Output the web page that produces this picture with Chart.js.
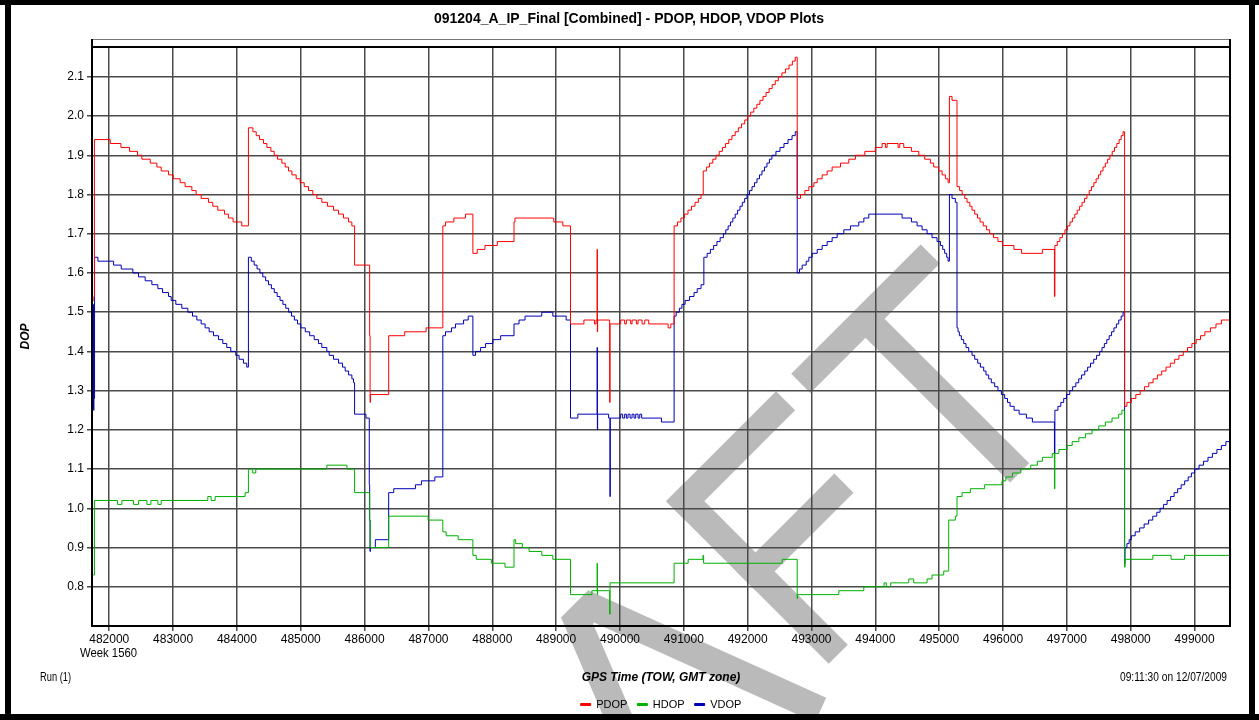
<!DOCTYPE html>
<html><head><meta charset="utf-8">
<script src="https://cdn.jsdelivr.net/npm/chart.js@4"></script>
<style>html,body{margin:0;padding:0;background:#fff;overflow:hidden}#wrap{width:1259px;height:720px;position:relative}canvas{display:block}</style>
</head><body><div id="wrap"><canvas id="c" width="1259" height="720"></canvas></div>
<script>
// ---- data (GPS time of week, DOP value at each step change) ----
const xTickVals = [482000,483000,484000,485000,486000,487000,488000,489000,490000,491000,492000,493000,494000,495000,496000,497000,498000,499000];
const yTickVals = [0.8,0.9,1.0,1.1,1.2,1.3,1.4,1.5,1.6,1.7,1.8,1.9,2.0,2.1];
const seriesNames = ['PDOP','HDOP','VDOP'];

const pdopT = [481750,481760,481768,482016,482183,482318,482443,482511,482642,482746,482814,482929,483002,483111,483189,483294,483361,483440,483554,483622,483700,483805,483867,483940,484076,
484180,484250,484302,484354,484417,484469,484532,484584,484636,484704,484756,484808,484861,484928,484991,485054,485121,485189,485252,485330,485418,485513,485591,485669,485748,485800,
485843,486079,486086,486092,486377,486628,486963,487225,487267,487398,487581,487696,487764,487885,488079,488340,488355,488963,489105,489225,489435,489600,489625,489642,489646,489650,489838,489845,
490011,490073,490100,490168,490189,490257,490283,490346,490388,490450,490754,490796,
490848,490901,490955,491010,491065,491120,491175,491228,491270,491304,491354,491404,491454,491504,491554,491604,491654,491704,491754,491804,491854,491904,491954,492000,492048,492096,492144,492192,492240,492288,492336,492384,492432,492480,492536,492592,492648,492700,492745,
492776,492828,492896,492958,493037,493089,493167,493245,493323,493454,493584,493688,493835,494000,494106,494158,494184,494356,494382,494445,494565,494680,494773,494862,494914,494993,495045,495097,495139,
495160,495201,495279,495320,495360,495400,495436,495480,495514,495556,495600,495640,495690,495740,495790,495850,495920,495990,496170,496290,496616,496805,
496812,496850,496890,496930,496970,497010,497048,497086,497124,497162,497200,497238,497276,497314,497350,497386,497422,497458,497494,497530,497566,497602,497638,497674,497710,497746,497782,497818,497850,497880,
497904,497940,498010,498080,498148,498215,498283,498350,498418,498485,498553,498620,498688,498755,498823,498890,498958,499025,499093,499161,499248,499335,499421,499555];
const pdopV = [1.53,1.54,1.94,1.93,1.92,1.91,1.90,1.89,1.88,1.87,1.86,1.85,1.84,1.83,1.82,1.81,1.80,1.79,1.78,1.77,1.76,1.75,1.74,1.73,1.72,
1.97,1.96,1.95,1.94,1.93,1.92,1.91,1.90,1.89,1.88,1.87,1.86,1.85,1.84,1.83,1.82,1.81,1.80,1.79,1.78,1.77,1.76,1.75,1.74,1.73,1.72,
1.62,1.44,1.27,1.29,1.44,1.45,1.46,1.72,1.73,1.74,1.75,1.65,1.66,1.67,1.68,1.73,1.74,1.73,1.72,1.47,1.48,1.47,1.48,1.66,1.45,1.48,1.27,1.47,
1.48,1.47,1.48,1.47,1.48,1.47,1.48,1.47,1.48,1.47,1.46,1.47,
1.72,1.73,1.74,1.75,1.76,1.77,1.78,1.79,1.80,1.86,1.87,1.88,1.89,1.90,1.91,1.92,1.93,1.94,1.95,1.96,1.97,1.98,1.99,2.00,2.01,2.02,2.03,2.04,2.05,2.06,2.07,2.08,2.09,2.10,2.11,2.12,2.13,2.14,2.15,
1.79,1.80,1.81,1.82,1.83,1.84,1.85,1.86,1.87,1.88,1.89,1.90,1.91,1.92,1.93,1.92,1.93,1.92,1.93,1.92,1.91,1.90,1.89,1.88,1.87,1.86,1.85,1.84,1.83,
2.05,2.04,1.82,1.81,1.80,1.79,1.78,1.77,1.76,1.75,1.74,1.73,1.72,1.71,1.70,1.69,1.68,1.67,1.66,1.65,1.66,1.54,
1.67,1.68,1.69,1.70,1.71,1.72,1.73,1.74,1.75,1.76,1.77,1.78,1.79,1.80,1.81,1.82,1.83,1.84,1.85,1.86,1.87,1.88,1.89,1.90,1.91,1.92,1.93,1.94,1.95,1.96,
1.26,1.27,1.28,1.29,1.30,1.31,1.32,1.33,1.34,1.35,1.36,1.37,1.38,1.39,1.40,1.41,1.42,1.43,1.44,1.45,1.46,1.47,1.48,1.48];

const hdopT = [481750,481768,482130,482198,482381,482459,482590,482652,482762,482814,483544,483596,483659,484128,484180,484248,484295,485409,485723,485843,486079,486088,486377,486995,487225,487277,487466,487696,487749,487985,488199,488340,488366,488471,488576,488775,488948,
489225,489560,489642,489646,489650,489838,489845,490848,491068,491300,491310,492541,492776,492782,493428,493819,494136,494172,494240,494523,494601,494810,494888,495071,
495149,495253,495279,495358,495488,495712,495984,496044,496148,496278,496434,496538,496616,496771,496805,496812,496875,497005,497083,497187,497291,497395,497499,497603,497707,497811,497862,
497904,497912,498346,498632,498842,499555];
const hdopV = [0.83,1.02,1.01,1.02,1.01,1.02,1.01,1.02,1.01,1.02,1.03,1.02,1.03,1.04,1.10,1.09,1.10,1.11,1.10,1.04,0.97,0.90,0.98,0.97,0.94,0.93,0.92,0.88,0.87,0.86,0.85,0.92,0.91,0.90,0.89,0.88,0.87,
0.78,0.79,0.86,0.78,0.79,0.73,0.81,0.86,0.87,0.88,0.86,0.87,0.77,0.78,0.79,0.80,0.81,0.80,0.81,0.82,0.81,0.82,0.83,0.84,
0.97,0.98,1.03,1.04,1.05,1.06,1.07,1.08,1.09,1.10,1.11,1.12,1.13,1.14,1.05,1.14,1.15,1.16,1.17,1.18,1.19,1.20,1.21,1.22,1.23,1.24,1.25,
0.85,0.87,0.88,0.87,0.88,0.88];

const vdopT = [481750,481754,481760,481770,481823,482068,482188,482370,482459,482563,482668,482762,482835,482929,482970,483043,483137,483231,483304,483372,483440,483502,483565,483633,483711,483779,483841,483904,483982,484034,484102,484154,
484180,484225,484270,484315,484360,484405,484450,484495,484540,484585,484630,484675,484720,484765,484810,484855,484900,484950,485000,485070,485140,485210,485277,485330,485408,485445,485513,485592,485654,485696,485749,485801,485827,
485843,486021,486073,486079,486085,486090,486168,486377,486456,486796,486890,487100,487225,487267,487361,487424,487550,487623,487696,487738,487817,487895,488010,488131,488340,488419,488513,488775,488948,489157,
489225,489340,489642,489646,489650,489822,489843,489848,490011,490042,490073,490100,490126,490158,490189,490220,490246,490283,490310,490340,490650,
490848,490880,490930,490970,491020,491090,491160,491210,491270,491314,491365,491416,491467,491518,491569,491620,491657,491694,491731,491768,491805,491842,491879,491916,491953,491990,492029,492068,492107,492146,492185,492224,492263,492302,492341,492380,492443,492506,492569,492632,492695,492745,
492776,492812,492854,492917,492958,493010,493089,493167,493245,493323,493402,493506,493610,493740,493820,493897,494419,494565,494654,494732,494810,494888,494966,495019,495055,495086,495117,495139,
495160,495201,495253,495279,495295,495316,495347,495384,495420,495462,495514,495556,495603,495645,495697,495733,495775,495816,495869,495921,495974,496026,496070,496110,496174,496252,496366,496460,496805,
496812,496860,496905,496950,496995,497045,497090,497140,497185,497230,497280,497325,497370,497420,497465,497514,497550,497587,497625,497662,497700,497737,497775,497812,497850,497880,
497904,497910,497940,497975,498010,498070,498140,498210,498280,498345,498408,498460,498515,498570,498625,498680,498735,498790,498845,498900,498950,499000,499070,499140,499210,499280,499350,499420,499490,499555];
const vdopV = [1.52,1.25,1.28,1.64,1.63,1.62,1.61,1.60,1.59,1.58,1.57,1.56,1.55,1.54,1.53,1.52,1.51,1.50,1.49,1.48,1.47,1.46,1.45,1.44,1.43,1.42,1.41,1.40,1.39,1.38,1.37,1.36,
1.64,1.63,1.62,1.61,1.60,1.59,1.58,1.57,1.56,1.55,1.54,1.53,1.52,1.51,1.50,1.49,1.48,1.47,1.46,1.45,1.44,1.43,1.42,1.41,1.40,1.39,1.38,1.37,1.36,1.35,1.34,1.33,1.32,
1.24,1.23,1.06,0.97,0.89,0.90,0.92,1.04,1.05,1.06,1.07,1.08,1.44,1.45,1.46,1.47,1.48,1.49,1.39,1.40,1.41,1.42,1.43,1.44,1.47,1.48,1.49,1.50,1.49,1.48,
1.23,1.24,1.41,1.20,1.24,1.23,1.03,1.23,1.24,1.23,1.24,1.23,1.24,1.23,1.24,1.23,1.24,1.23,1.24,1.23,1.22,
1.49,1.50,1.51,1.52,1.53,1.54,1.55,1.56,1.57,1.64,1.65,1.66,1.67,1.68,1.69,1.70,1.71,1.72,1.73,1.74,1.75,1.76,1.77,1.78,1.79,1.80,1.81,1.82,1.83,1.84,1.85,1.86,1.87,1.88,1.89,1.90,1.91,1.92,1.93,1.94,1.95,1.96,
1.60,1.61,1.62,1.63,1.64,1.65,1.66,1.67,1.68,1.69,1.70,1.71,1.72,1.73,1.74,1.75,1.74,1.73,1.72,1.71,1.70,1.69,1.68,1.67,1.66,1.65,1.64,1.63,
1.80,1.79,1.78,1.46,1.45,1.44,1.43,1.42,1.41,1.40,1.39,1.38,1.37,1.36,1.35,1.34,1.33,1.32,1.31,1.30,1.29,1.28,1.27,1.26,1.25,1.24,1.23,1.22,1.14,
1.25,1.26,1.27,1.28,1.29,1.30,1.31,1.32,1.33,1.34,1.35,1.36,1.37,1.38,1.39,1.40,1.41,1.42,1.43,1.44,1.45,1.46,1.47,1.48,1.49,1.50,
0.86,0.90,0.91,0.92,0.93,0.94,0.95,0.96,0.97,0.98,0.99,1.00,1.01,1.02,1.03,1.04,1.05,1.06,1.07,1.08,1.09,1.10,1.11,1.12,1.13,1.14,1.15,1.16,1.17,1.17];

const toPts = (t, v) => t.map((x, i) => ({x: x, y: v[i]}));

const FONT = "'Liberation Sans',Arial,Helvetica,sans-serif";
Chart.defaults.font.family = FONT;
Chart.defaults.color = '#000';

// text drawn at a given width (the original uses a narrow face)
function fitText(ctx, text, x, y, align, width) {
  const w = ctx.measureText(text).width;
  const k = Math.min(1, width / w);
  ctx.save();
  ctx.translate(x, y);
  ctx.scale(k, 1);
  ctx.textAlign = align;
  ctx.fillText(text, 0, 0);
  ctx.restore();
}

// decoration: outer frame, header strip, watermark, free texts
const deco = {
  id: 'deco',
  beforeDraw(chart) {
    const ctx = chart.ctx;
    ctx.save();
    ctx.fillStyle = '#fff';
    ctx.fillRect(0, 0, chart.width, chart.height);
    // DRAFT watermark (decoration), letters in a frame rotated by -45 degrees
    ctx.translate(800.8, 383.4);
    ctx.rotate(-Math.PI / 4);
    ctx.strokeStyle = '#bababa';
    ctx.lineWidth = 27;
    ctx.lineCap = 'butt';
    ctx.lineJoin = 'miter';
    const strokes = [
      [[0, 0], [183, 0]], [[91.5, 0], [91.5, 218]],                                         // T
      [[-165, -12], [-165, 218]], [[-178.5, 1.5], [-23, 1.5]], [[-178.5, 101], [-40, 101]], // F
      [[-420, 245], [-326, 9.5], [-306, 9.5], [-217, 245]]                                  // A
    ];
    for (const s of strokes) {
      ctx.beginPath();
      ctx.moveTo(s[0][0], s[0][1]);
      for (let i = 1; i < s.length; i++) ctx.lineTo(s[i][0], s[i][1]);
      ctx.stroke();
    }
    ctx.restore();
  },
  afterDatasetsDraw(chart) {
    const ctx = chart.ctx, a = chart.chartArea;
    ctx.save();
    ctx.strokeStyle = '#777';
    ctx.lineWidth = 1;
    ctx.strokeRect(a.left - 0.5, a.top - 7.5, a.right - a.left + 1, 7);
    ctx.strokeStyle = '#000';
    ctx.lineWidth = 2;
    ctx.strokeRect(a.left, a.top, a.right - a.left, a.bottom - a.top);
    ctx.beginPath();
    ctx.moveTo(a.left, a.top - 8); ctx.lineTo(a.left, a.top);
    ctx.moveTo(a.right, a.top - 8); ctx.lineTo(a.right, a.top);
    ctx.stroke();
    ctx.restore();
  },
  afterDraw(chart) {
    const ctx = chart.ctx, a = chart.chartArea;
    ctx.save();
    ctx.fillStyle = '#000';
    ctx.fillRect(0, 0, chart.width, 5);
    ctx.fillRect(0, chart.height - 6, chart.width, 6);
    ctx.fillRect(5, 0, 6, chart.height);
    ctx.fillRect(chart.width - 10, 0, 6, chart.height);
    ctx.textBaseline = 'middle';
    ctx.font = "bold 14px " + FONT;
    fitText(ctx, '091204_A_IP_Final [Combined] - PDOP, HDOP, VDOP Plots', 629, 19, 'center', 394);
    ctx.font = "12px " + FONT;
    fitText(ctx, 'Week 1560', 80, 654, 'left', 57);
    fitText(ctx, 'Run (1)', 40, 678, 'left', 31);
    fitText(ctx, '09:11:30 on 12/07/2009', a.right - 3, 678, 'right', 107);
    ctx.restore();
  }
};

const gridStyle = {color: '#4a4a4a', lineWidth: 1.5, tickLength: 5, drawTicks: true};

new Chart(document.getElementById('c'), {
  type: 'line',
  data: {
    datasets: [
      {label: seriesNames[0], data: toPts(pdopT, pdopV), borderColor: '#ff0000', backgroundColor: '#ff0000', borderWidth: 1, stepped: true, pointRadius: 0, fill: false},
      {label: seriesNames[1], data: toPts(hdopT, hdopV), borderColor: '#00b000', backgroundColor: '#00b000', borderWidth: 1, stepped: true, pointRadius: 0, fill: false},
      {label: seriesNames[2], data: toPts(vdopT, vdopV), borderColor: '#0000b4', backgroundColor: '#0000b4', borderWidth: 1, stepped: true, pointRadius: 0, fill: false}
    ]
  },
  options: {
    responsive: false,
    animation: false,
    devicePixelRatio: 1,
    events: [],
    layout: {padding: {left: 0, right: 29, top: 47, bottom: 0}},
    plugins: {
      title: {display: false},
      tooltip: {enabled: false},
      legend: {
        display: true, position: 'bottom', fullSize: false,
        labels: {boxWidth: 10, boxHeight: 2, padding: 10, font: {size: 11}, color: '#000'}
      }
    },
    scales: {
      x: {
        type: 'linear', min: 481730, max: 499555,
        afterBuildTicks: s => { s.ticks = xTickVals.map(v => ({value: v})); },
        afterFit: s => { s.height = 63; },
        ticks: {callback: v => String(v), autoSkip: false, maxRotation: 0, padding: 1, font: {size: 12}, color: '#000'},
        grid: gridStyle,
        border: {color: '#000', width: 2},
        title: {display: true, text: 'GPS Time (TOW, GMT zone)', font: {size: 12, weight: 'bold', style: 'italic'}, color: '#000', padding: {top: 0, bottom: 3.8}}
      },
      y: {
        type: 'linear', min: 0.7, max: 2.176,
        afterBuildTicks: s => { s.ticks = yTickVals.map(v => ({value: v})); },
        afterFit: s => { s.width = 92; },
        ticks: {callback: v => v.toFixed(1), padding: 3, font: {size: 12}, color: '#000'},
        grid: gridStyle,
        border: {color: '#000', width: 2},
        title: {display: true, text: 'DOP', font: {size: 12, weight: 'bold', style: 'italic'}, color: '#000', padding: {top: 18, bottom: 0}}
      }
    }
  },
  plugins: [deco]
});
</script>
</body></html>
